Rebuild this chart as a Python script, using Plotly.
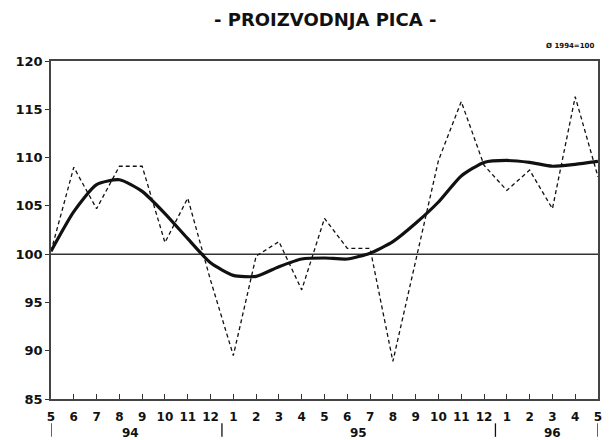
import plotly.graph_objects as go

months = ["5", "6", "7", "8", "9", "10", "11", "12",
          "1", "2", "3", "4", "5", "6", "7", "8", "9", "10", "11", "12",
          "1", "2", "3", "4", "5"]
years = ["94", "95", "96"]
year_centers = [3.5, 13.5, 22.0]
year_breaks = [0, 7.5, 19.5, 24]

production = [100.3, 109.0, 104.7, 109.1, 109.1, 101.2, 105.8, 97.3,
              89.5, 99.8, 101.3, 96.3, 103.7, 100.6, 100.6, 88.9, 99.3, 109.7, 115.8, 109.2,
              106.6, 108.7, 104.7, 116.3, 108.0]
trend = [100.3, 104.4, 107.2, 107.7, 106.5, 104.2, 101.6, 99.1,
         97.8, 97.7, 98.7, 99.5, 99.6, 99.5, 100.1, 101.3, 103.2, 105.4, 108.1, 109.5,
         109.7, 109.5, 109.1, 109.3, 109.6]
y_ticks = [85, 90, 95, 100, 105, 110, 115, 120]

x = list(range(len(months)))
FONT = "DejaVu Sans"
INK = "#111111"

fig = go.Figure()
fig.add_trace(go.Scatter(x=x, y=production, mode="lines",
                         line=dict(color=INK, width=1.3, dash="4px,3px"),
                         showlegend=False, hoverinfo="skip"))
fig.add_trace(go.Scatter(x=x, y=trend, mode="lines",
                         line=dict(color=INK, width=3.2, shape="spline", smoothing=0.6),
                         showlegend=False, hoverinfo="skip"))

shapes = [dict(type="line", xref="paper", x0=0, x1=1, yref="y", y0=100, y1=100,
               line=dict(color="#333333", width=1.5), layer="below")]
for b in year_breaks:
    shapes.append(dict(type="line", xref="x", x0=b, x1=b, yref="paper",
                       y0=-0.072, y1=-0.112, line=dict(color=INK, width=1.3)))

annotations = [
    dict(text="- PROIZVODNJA PICA -", xref="paper", yref="paper", x=0.5, y=1.123,
         showarrow=False, font=dict(family=FONT, size=18, color=INK, weight="bold"),
         xanchor="center", yanchor="middle"),
    dict(text="Ø 1994=100", xref="paper", yref="paper", x=0.996, y=1.044,
         showarrow=False, font=dict(family=FONT, size=7, color=INK, weight="bold"),
         xanchor="right", yanchor="middle"),
]
for lbl, c in zip(years, year_centers):
    annotations.append(dict(text=lbl, xref="x", yref="paper", x=c, y=-0.1,
                            showarrow=False, xanchor="center", yanchor="middle",
                            font=dict(family=FONT, size=12, color=INK, weight="bold")))

fig.update_layout(
    width=602, height=432,
    margin=dict(l=40, r=8, t=53, b=41),
    paper_bgcolor="white", plot_bgcolor="white",
    shapes=shapes, annotations=annotations,
    font=dict(family=FONT, color=INK),
)
fig.update_xaxes(range=[0, 24], tickvals=x, ticktext=months,
                 ticks="inside", ticklen=5, tickcolor="#333333", tickwidth=1.2,
                 showline=True, linecolor="#444444", linewidth=1.5, mirror=True,
                 showgrid=False, zeroline=False, ticklabelstandoff=6,
                 tickfont=dict(family=FONT, size=12, color=INK, weight="bold"))
fig.update_yaxes(range=[85, 120], tickvals=y_ticks,
                 ticks="outside", ticklen=4, tickcolor="#333333", tickwidth=1.2,
                 showline=True, linecolor="#444444", linewidth=1.5, mirror=True,
                 showgrid=False, zeroline=False,
                 tickfont=dict(family=FONT, size=13, color=INK, weight="bold"))

fig.write_html("out.html")
